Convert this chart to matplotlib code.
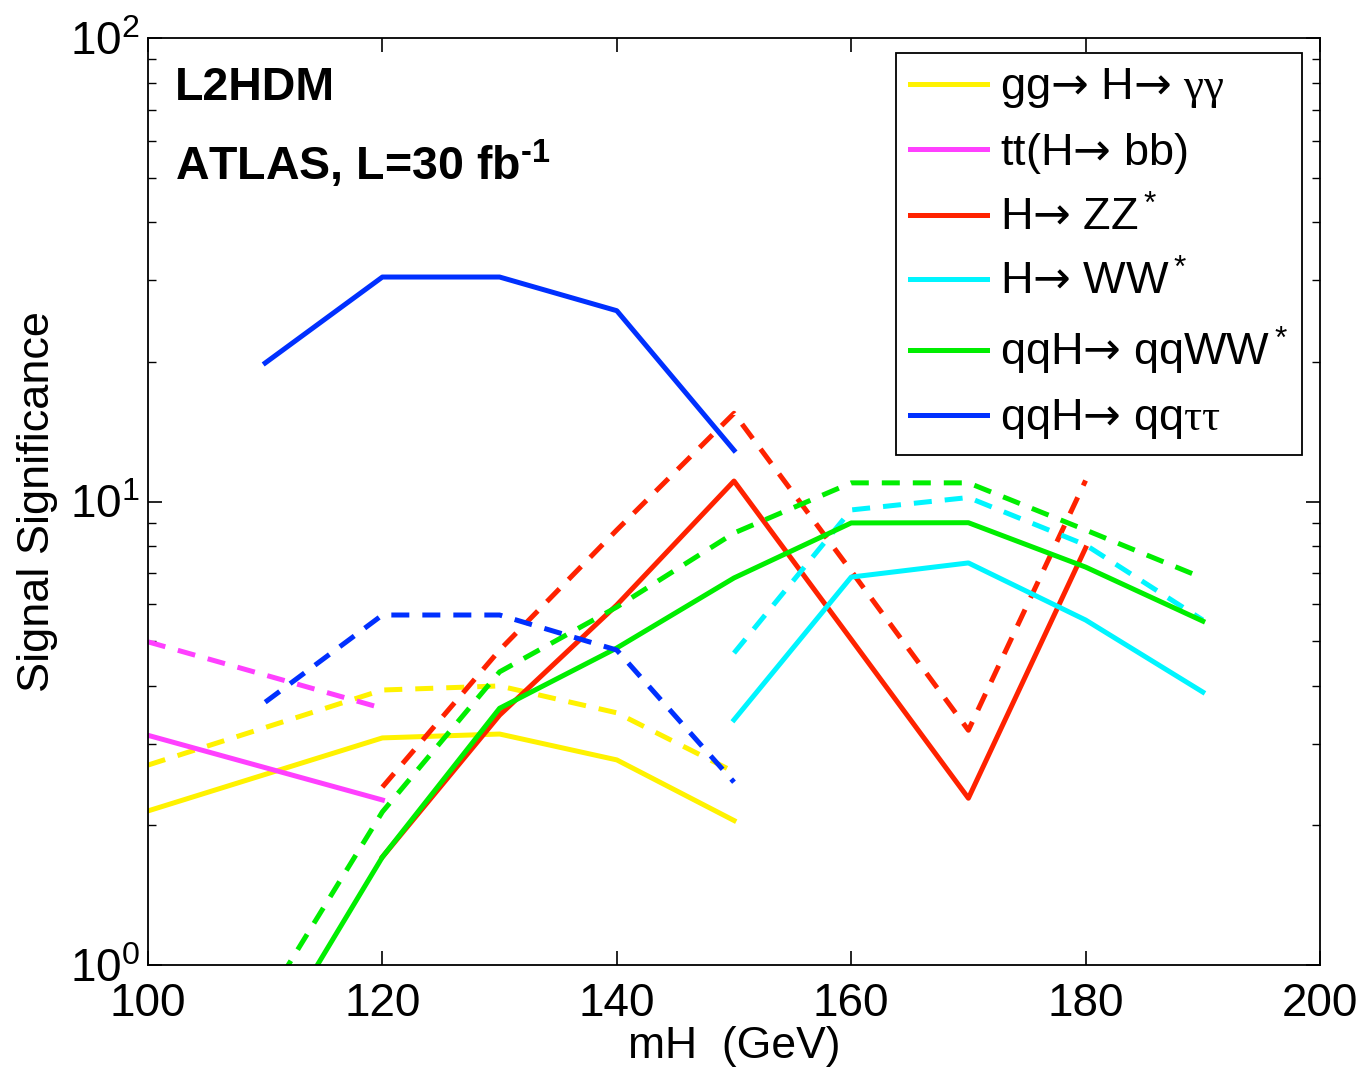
import numpy as np
import matplotlib
matplotlib.use('Agg')
from matplotlib import pyplot as plt

plt.rcParams['font.family'] = ['Liberation Sans', 'DejaVu Sans']
plt.rcParams['mathtext.fontset'] = 'custom'
plt.rcParams['mathtext.rm'] = 'Liberation Sans'
plt.rcParams['mathtext.it'] = 'Liberation Sans:italic'
plt.rcParams['mathtext.bf'] = 'Liberation Sans:bold'
plt.rcParams['mathtext.sf'] = 'DejaVu Sans'
plt.rcParams['mathtext.cal'] = 'Liberation Serif'

# mH (GeV)
mh_lo = [100, 120]
mh_mid = [100, 120, 130, 140, 150]
mh_tau = [110, 120, 130, 140, 150]
mh_zz = [120, 130, 140, 150, 160, 170, 180]
mh_ww = [150, 160, 170, 180, 190]
mh_vbf = [110, 120, 130, 140, 150, 160, 170, 180, 190]

# solid / dashed curves
gam_s = [2.15, 3.09, 3.15, 2.77, 2.05]
gam_d = [2.70, 3.92, 4.00, 3.50, 2.61]
ttbb_s = [3.13, 2.27]
ttbb_d = [4.98, 3.58]
zz_s = [1.71, 3.46, 5.98, 11.07, 5.04, 2.29, 7.94]
zz_d = [2.42, 4.78, 8.68, 15.5, 7.08, 3.21, 11.1]
ww_s = [3.38, 6.87, 7.37, 5.55, 3.88]
ww_d = [4.71, 9.59, 10.2, 8.06, 5.55]
vbfww_s = [0.65, 1.71, 3.58, 4.83, 6.84, 8.99, 9.00, 7.22, 5.52]
vbfww_d = [0.83, 2.14, 4.29, 5.92, 8.55, 10.97, 10.97, 8.68, 6.84]
tau_s = [19.9, 30.5, 30.5, 25.8, 12.9]
tau_d = [3.69, 5.69, 5.69, 4.78, 2.48]

arr = '$\\mathsf{→}$'
labels = ['gg' + arr + ' H' + arr + ' $\\mathcal{γγ}$',
          'tt(H' + arr + ' bb)',
          'H' + arr + ' ZZ$^*$',
          'H' + arr + ' WW$^*$',
          'qqH' + arr + ' qqWW$^*$',
          'qqH' + arr + ' qq$\\mathcal{ττ}$']
colors = ['#fff200', '#ff40ff', '#ff2200', '#00f5ff', '#00ee00', '#0030ff']

fig = plt.figure(figsize=(13.62, 10.71), dpi=100)
ax = fig.add_axes([148/1362, 1-965/1071, (1320-148)/1362, (965-38)/1071])

lw = 3.6
series = [(mh_mid, gam_s, gam_d), (mh_lo, ttbb_s, ttbb_d), (mh_zz, zz_s, zz_d),
          (mh_ww, ww_s, ww_d), (mh_vbf, vbfww_s, vbfww_d), (mh_tau, tau_s, tau_d)]
handles = []
for (x, s, d), c, lab in zip(series, colors, labels):
    h, = ax.plot(x, s, color=c, lw=lw, label=lab)
    ax.plot(x, d, color=c, lw=lw, ls='--', dashes=(3.6, 2.6))
    handles.append(h)

ax.set_yscale('log')
ax.set_xlim(100, 200)
ax.set_ylim(1, 100)
ax.set_xticks([100, 120, 140, 160, 180, 200])
ax.tick_params(which='both', direction='in', top=True, right=True, labelsize=33)
ax.tick_params(axis='x', pad=12)
ax.tick_params(axis='y', pad=6)
ax.tick_params(which='major', length=10, width=1.2)
ax.tick_params(which='minor', length=6, width=1.0)
for sp in ax.spines.values():
    sp.set_linewidth(1.3)

ax.set_xlabel('mH  (GeV)', fontsize=32, labelpad=0)
ax.set_ylabel('Signal Significance', fontsize=32.5, labelpad=8)

ax.text(0.023, 0.946, 'L2HDM', transform=ax.transAxes, fontsize=33.5,
        fontweight='bold', va='center')
ax.text(0.023, 0.864, 'ATLAS, L=30 fb$^{\\mathbf{‐1}}$', transform=ax.transAxes,
        fontsize=33.5, fontweight='bold', va='center')

leg = ax.legend(handles=handles, loc='upper right', bbox_to_anchor=(0.9845, 0.984),
                fontsize=32.5, frameon=True, fancybox=False, edgecolor='black',
                framealpha=1, handlelength=1.7, handletextpad=0.3,
                labelspacing=0.46, borderpad=0.3, borderaxespad=0)
leg.get_frame().set_linewidth(1.3)

fig.savefig('out.png', dpi=100)
